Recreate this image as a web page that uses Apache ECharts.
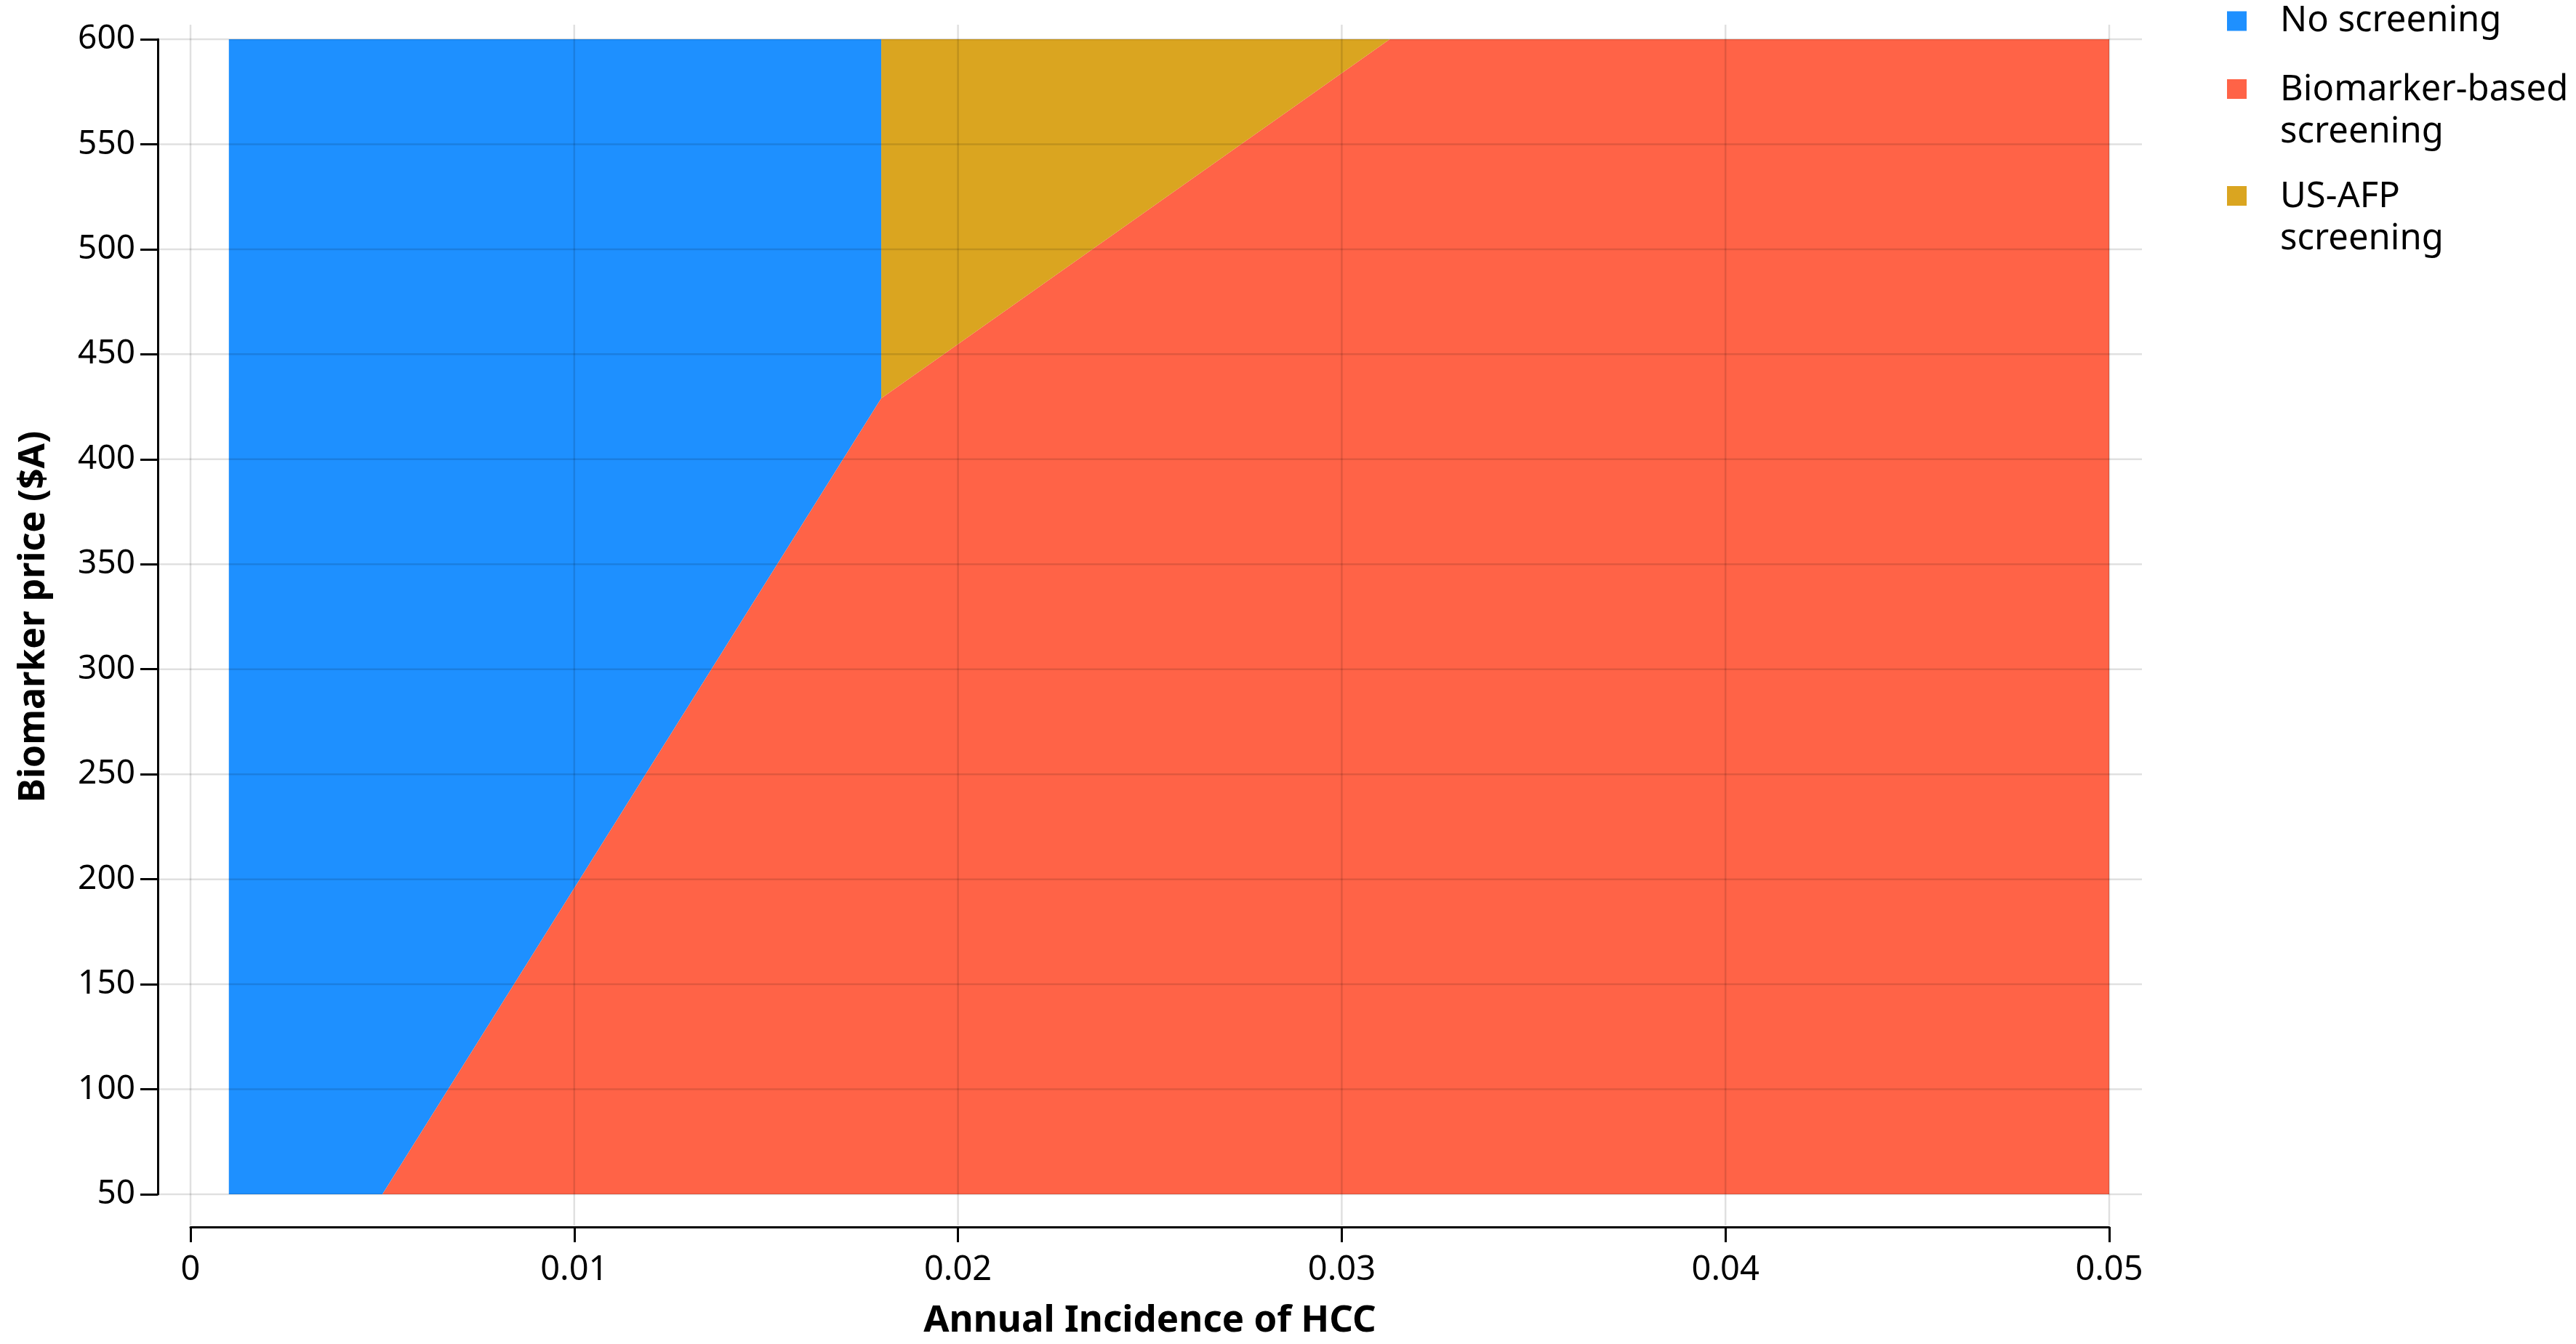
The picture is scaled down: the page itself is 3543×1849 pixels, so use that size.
<!DOCTYPE html>
<html>
<head>
<meta charset="utf-8">
<script src="https://cdn.jsdelivr.net/npm/echarts@6/dist/echarts.min.js"></script>
<style>
  html, body { margin: 0; padding: 0; background: #fff; }
  #chart { width: 3543px; height: 1849px; }
</style>
</head>
<body>
<div id="chart"></div>
<script>
// tick values
var xTicks = [0, 0.01, 0.02, 0.03, 0.04, 0.05];
var yTicks = [50, 100, 150, 200, 250, 300, 350, 400, 450, 500, 550, 600];

// region boundaries (annual incidence, biomarker price)
var noScreenX = [0.001, 0.005, 0.018];
var noScreenY = [50, 50, 429];
var bioX = [0.005, 0.018, 0.03125, 0.05];
var bioY = [50, 429, 600, 600];
var usafpX = [0.018, 0.03125];
var usafpY = [429, 600];

var names = ['No screening', 'Biomarker-based\nscreening', 'US-AFP\nscreening'];
var colors = ['#1E90FF', '#FF6347', '#DAA520'];

function pairs(xs, ys) {
  return xs.map(function (x, i) { return [x, ys[i]]; });
}

var font = 'Noto Sans';
var pad = 45; // axes are pushed away from the plot area
var gridColor = 'rgba(0,0,0,0.12)';

var chart = echarts.init(document.getElementById('chart'));

// grid lines run a bit past the plot area, like the original
function vLine(params, api) {
  var v = api.value(0);
  var a = api.coord([v, 600]);
  var b = api.coord([v, 50]);
  return { type: 'line', shape: { x1: a[0], y1: a[1] - 20, x2: b[0], y2: b[1] + pad - 2 }, style: { stroke: gridColor, lineWidth: 2.5 } };
}
function hLine(params, api) {
  var v = api.value(1);
  var a = api.coord([0, v]);
  var b = api.coord([0.05, v]);
  return { type: 'line', shape: { x1: a[0] - pad + 2, y1: a[1], x2: b[0] + pad, y2: b[1] }, style: { stroke: gridColor, lineWidth: 2.5 } };
}

// square sits on the first text line of a two-line legend entry
var topSquare = 'path://M0,0H27V27H0Z M0,87.9H0.1V88H0Z';

function legendAt(name, top, icon, h) {
  return {
    orient: 'vertical',
    left: 3063,
    top: top,
    padding: 0,
    itemWidth: 27,
    itemHeight: h,
    icon: icon,
    textStyle: { fontFamily: font, fontSize: 49, lineHeight: 58, color: '#000', padding: [0, 0, 0, 41] },
    data: [name]
  };
}

var option = {
  backgroundColor: '#fff',
  animation: false,
  textStyle: { fontFamily: font },
  grid: { left: 262, right: 642, top: 54, bottom: 206 },
  legend: [
    legendAt(names[0], 0, 'rect', 27),
    legendAt(names[1], 95, topSquare, 88),
    legendAt(names[2], 242, topSquare, 88)
  ],
  xAxis: {
    type: 'value',
    min: 0,
    max: 0.05,
    interval: 0.01,
    offset: pad,
    name: 'Annual Incidence of HCC',
    nameLocation: 'middle',
    nameGap: 104,
    nameTextStyle: { fontFamily: font, fontSize: 51, fontWeight: 'bold', color: '#000' },
    axisLine: { onZero: false, lineStyle: { color: '#000', width: 3 } },
    axisTick: { show: true, length: 21, lineStyle: { color: '#000', width: 3 } },
    axisLabel: { fontFamily: font, fontSize: 47, color: '#000', margin: 36 },
    splitLine: { show: false }
  },
  yAxis: {
    type: 'value',
    min: 50,
    max: 600,
    interval: 50,
    offset: pad,
    name: 'Biomarker price ($A)',
    nameLocation: 'middle',
    nameRotate: 90,
    nameGap: 145,
    nameTextStyle: { fontFamily: font, fontSize: 50, fontWeight: 'bold', color: '#000' },
    axisLine: { onZero: false, lineStyle: { color: '#000', width: 3 } },
    axisTick: { show: true, length: 24, lineStyle: { color: '#000', width: 3 } },
    axisLabel: { fontFamily: font, fontSize: 46, color: '#000', margin: 31 },
    splitLine: { show: false }
  },
  series: [
    {
      name: names[0],
      type: 'line',
      data: pairs(noScreenX, noScreenY),
      symbol: 'none',
      lineStyle: { width: 0 },
      itemStyle: { color: colors[0] },
      areaStyle: { color: colors[0], opacity: 1, origin: 'end' },
      z: 2
    },
    {
      name: names[1],
      type: 'line',
      data: pairs(bioX, bioY),
      symbol: 'none',
      lineStyle: { width: 0 },
      itemStyle: { color: colors[1] },
      areaStyle: { color: colors[1], opacity: 1, origin: 'start' },
      z: 2
    },
    {
      name: names[2],
      type: 'line',
      data: pairs(usafpX, usafpY),
      symbol: 'none',
      lineStyle: { width: 0 },
      itemStyle: { color: colors[2] },
      areaStyle: { color: colors[2], opacity: 1, origin: 'end' },
      z: 2
    },
    {
      type: 'custom',
      data: xTicks.map(function (x) { return [x, 50]; }),
      renderItem: vLine,
      silent: true,
      z: 5
    },
    {
      type: 'custom',
      data: yTicks.map(function (y) { return [0, y]; }),
      renderItem: hLine,
      silent: true,
      z: 5
    }
  ]
};

chart.setOption(option);
</script>
</body>
</html>
